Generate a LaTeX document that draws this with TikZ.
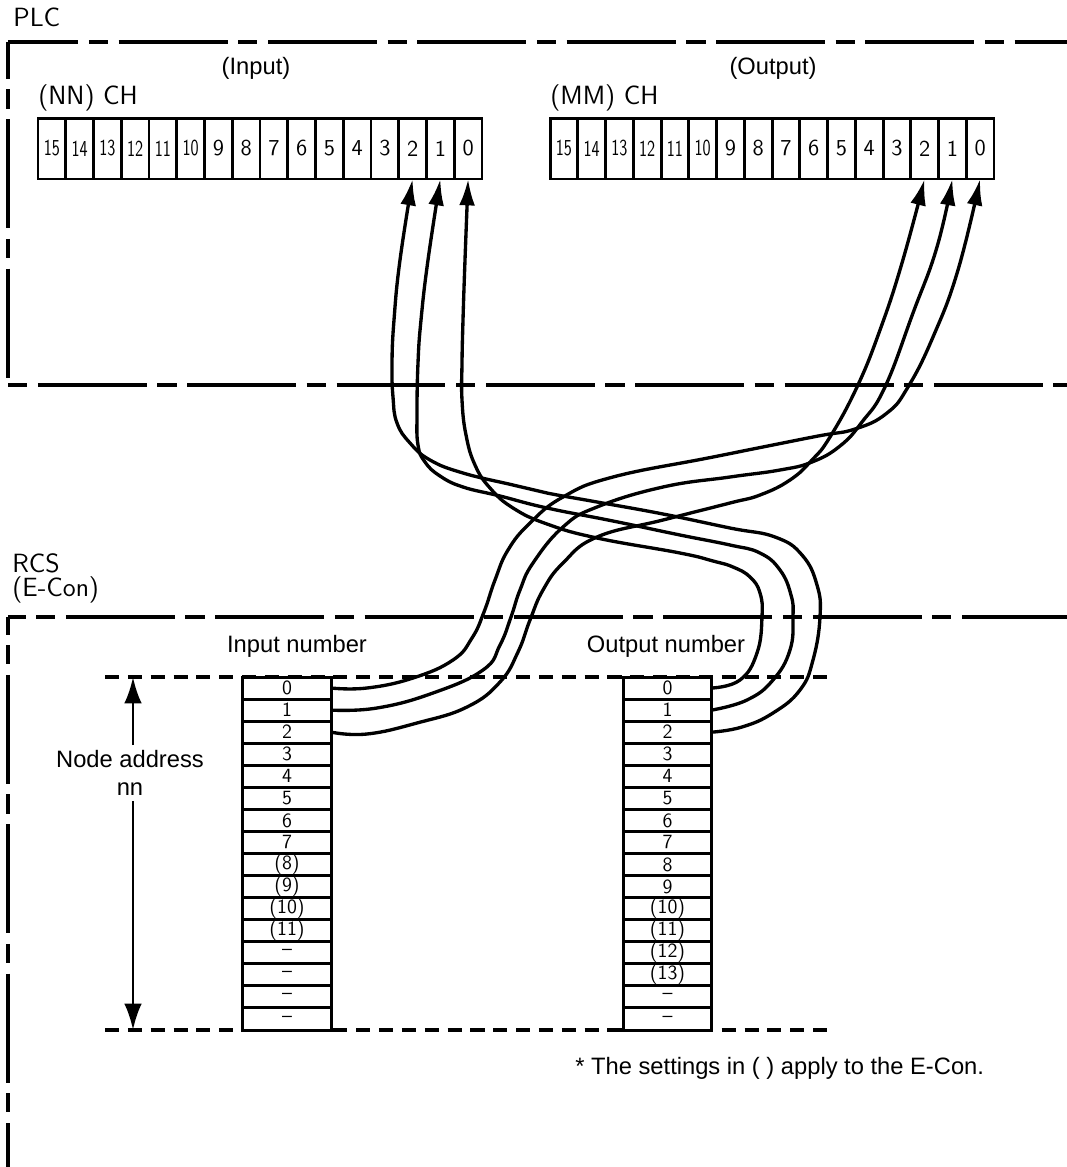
\documentclass[tikz,border=0pt]{standalone}
\usepackage{fontspec}
\setmainfont{Liberation Sans}
\usetikzlibrary{arrows.meta,positioning}
\tikzset{
  plcline/.style={line width=1.9pt,dash pattern=on 62pt off 6pt on 11pt off 6pt},
  guide/.style={line width=1.9pt,dash pattern=on 8pt off 5pt},
  bitcell/.style={draw,line width=1.7pt,fill=white,minimum width=0.555cm,minimum height=1.22cm,inner sep=0pt,outer sep=0pt,font=\sffamily\fontsize{13}{13}\selectfont},
  rowcell/.style={draw,line width=1.7pt,fill=white,minimum width=1.77cm,minimum height=0.4412cm,inner sep=0pt,outer sep=0pt,font=\sffamily\fontsize{11.5}{11.5}\selectfont},
  wire/.style={line width=1.9pt,-{Latex[length=15pt,width=9pt]}},
  ptr/.style={line width=1.6pt,-{Latex[length=15pt,width=10pt]}},
  thinlbl/.style={font=\sffamily\fontsize{15}{15}\selectfont,inner sep=0pt},
  lbl/.style={font=\fontsize{13.5}{15.5}\selectfont,inner sep=0pt}
}
\begin{document}
\begin{tikzpicture}[x=0.02cm,y=-0.02cm]
\useasboundingbox (0,0) rectangle (1067,1167);
% frames
\draw[plcline,dash phase=22pt] (8,42) -- (1067,42);
\draw[plcline,dash phase=41pt] (8,42) -- (8,385);
\draw[plcline,dash phase=68pt] (8,385) -- (1067,385);
\draw[plcline,dash phase=52pt] (8,617) -- (1067,617);
\draw[plcline,dash phase=52pt] (8,617) -- (8,1167);
\node[thinlbl,anchor=west] (plc) at (13,17) {PLC};
\node[thinlbl,anchor=west] (rcs) at (12,563) {RCS};
\node[thinlbl,anchor=west] (econ) at (12,590) {(E-Con)};
% PLC channels
\node[lbl] (inhead) at (256,68) {(Input)};
\node[lbl] (outhead) at (773,68) {(Output)};
\node[thinlbl,anchor=west] (nnch) at (38,98) {(NN)\ CH};
\node[thinlbl,anchor=west] (mmch) at (550,98) {(MM)\ CH};
\foreach \i in {0,...,15} {
  \node[bitcell] (in\i) at ({468.125-27.75*\i},148.5) {\ifnum\i>9 \scalebox{0.72}[1]{\i}\else\i\fi};
  \node[bitcell] (out\i) at ({980.125-27.75*\i},148.5) {\ifnum\i>9 \scalebox{0.72}[1]{\i}\else\i\fi};
}
% RCS numbers
\node[lbl] (innum) at (297,646) {Input number};
\node[lbl] (outnum) at (666,646) {Output number};
\draw[guide] (105,677) -- (835,677);
\draw[guide] (105,1030) -- (835,1030);
\foreach \lbl [count=\j from 0] in {0,1,2,3,4,5,6,7,(8),(9),(10),(11),--,--,--,--}
  \node[rowcell] (ri\j) at (287,{688.03+22.0625*\j}) {\lbl};
\foreach \lbl [count=\j from 0] in {0,1,2,3,4,5,6,7,8,9,(10),(11),(12),(13),--,--}
  \node[rowcell] (ro\j) at (667.5,{688.03+22.0625*\j}) {\lbl};
% node address
\node[lbl,align=center,inner ysep=3pt] (addr) at (130,773) {Node address\\nn};
\coordinate (addrtop) at (133,677);
\coordinate (addrbot) at (133,1030);
\draw[ptr] (addr.north -| addrtop) -- (addrtop);
\draw[ptr] (addr.south -| addrbot) -- (addrbot);
\node[lbl,anchor=west] (note) at (575,1068) {* The settings in ( ) apply to the E-Con.};
% wires output number -> PLC input
\draw[wire] plot[smooth,tension=0.75] coordinates {(ro2.east) (742,727) (773,713) (800,690) (813,660) (820,617) (817,585) (802,555) (775,537) (730,528) (663,514) (597,502) (547,493) (513,485) (463,473) (430,460) (410,443) (397,423) (393,397) (392,363) (394,320) (400,260) (in2.south)};
\draw[wire] plot[smooth,tension=0.75] coordinates {(ro1.east) (747,700) (773,680) (790,650) (793,617) (791,595) (780,570) (760,553) (730,545) (680,535) (613,521) (547,508) (500,496) (463,487) (440,476) (425,462) (418,445) (417,413) (418,363) (421,320) (428,260) (in1.south)};
\draw[wire] plot[smooth,tension=0.75] coordinates {(ro0.east) (740,680) (757,653) (762,617) (760,593) (750,577) (733,567) (713,561) (680,553) (597,538) (547,524) (513,508) (490,488) (475,465) (466,435) (462,400) (462,363) (463,320) (465,260) (in0.south)};
% wires input number -> PLC output
\draw[wire] plot[smooth,tension=0.75] coordinates {(ri0.east) (367,688) (413,678) (453,660) (472,638) (484,612) (495,580) (508,550) (530,523) (563,497) (613,477) (713,457) (813,437) (855,429) (887,413) (908,387) (933,337) (958,270) (out0.south)};
\draw[wire] plot[smooth,tension=0.75] coordinates {(ri1.east) (377,708) (433,693) (483,670) (500,645) (511,617) (520,590) (533,563) (563,527) (597,507) (663,487) (730,477) (780,470) (812,462) (840,446) (862,422) (885,387) (913,313) (937,247) (out1.south)};
\draw[wire] plot[smooth,tension=0.75] coordinates {(ri2.east) (367,734) (417,723) (467,707) (500,682) (518,652) (530,620) (543,590) (563,563) (597,537) (663,520) (730,503) (760,495) (790,480) (812,460) (830,437) (857,387) (880,330) (902,263) (out2.south)};
\end{tikzpicture}
\end{document}
